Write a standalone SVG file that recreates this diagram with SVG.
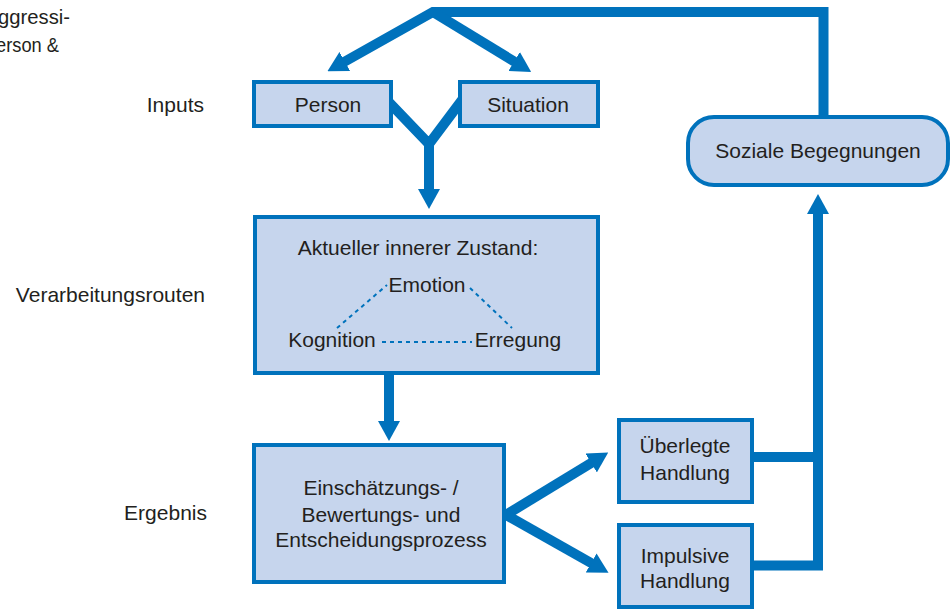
<svg xmlns="http://www.w3.org/2000/svg" width="951" height="609" viewBox="0 0 951 609">
<style>
.box{fill:#c6d5ed;stroke:#0072bc;stroke-width:4}
.t{font-family:"Liberation Sans",Arial,sans-serif;font-size:21px;fill:#231f20}
.m{text-anchor:middle}
.e{text-anchor:end}
.c{fill:none;stroke:#0072bc;stroke-width:10;stroke-linejoin:miter;stroke-miterlimit:10}
.d{fill:none;stroke:#0072bc;stroke-width:2;stroke-dasharray:4 4}
</style>
<defs>
<marker id="ah" viewBox="0 0 20 22" refX="1" refY="11" markerWidth="20" markerHeight="22" markerUnits="userSpaceOnUse" orient="auto">
<path d="M0,0 L20,11 L0,22 Z" fill="#0072bc"/>
</marker>
</defs>
<rect width="951" height="609" fill="#ffffff"/>
<g id="labels">
<text class="t" x="-2" y="24" textLength="72" lengthAdjust="spacingAndGlyphs">ggressi-</text>
<text class="t" x="-4" y="52" textLength="63" lengthAdjust="spacingAndGlyphs">erson &amp;</text>
<text class="t e" x="204" y="112">Inputs</text>
<text class="t e" x="205" y="302">Verarbeitungsrouten</text>
<text class="t e" x="207" y="520">Ergebnis</text>
</g>
<g id="connectors">
<path class="c" d="M823.5,117 V12 H433 L344,62" marker-end="url(#ah)"/>
<path class="c" d="M433,12 L515,62" marker-end="url(#ah)"/>
<path class="c" d="M383,96 L429,144 L468,92"/>
<path class="c" d="M429,140 V190" marker-end="url(#ah)"/>
<path class="c" d="M389,373 V422" marker-end="url(#ah)"/>
<path class="c" d="M500,518.5 L592,462.5" marker-end="url(#ah)"/>
<path class="c" d="M500,511.5 L592,563.5" marker-end="url(#ah)"/>
<path class="c" d="M750,565.5 H818 V213" marker-end="url(#ah)"/>
<path class="c" d="M750,457 H818"/>
</g>
<g id="person">
<rect class="box" x="254" y="82" width="137" height="44"/>
<text class="t m" x="328" y="112">Person</text>
</g>
<g id="situation">
<rect class="box" x="460" y="82" width="138" height="44"/>
<text class="t m" x="528" y="112">Situation</text>
</g>
<g id="zustand">
<rect class="box" x="255" y="217" width="343" height="156"/>
<text class="t m" x="418" y="255">Aktueller innerer Zustand:</text>
<path class="d" d="M337,328 L387,285"/>
<path class="d" d="M470,288 L512,328"/>
<path class="d" d="M382,342 H472"/>
<text class="t m" x="427" y="292">Emotion</text>
<text class="t m" x="332" y="347">Kognition</text>
<text class="t m" x="518" y="347">Erregung</text>
</g>
<g id="einschaetzung">
<rect class="box" x="254" y="445" width="250" height="137"/>
<text class="t m" x="381" y="495">Einschätzungs- /</text>
<text class="t m" x="381" y="522">Bewertungs- und</text>
<text class="t m" x="381" y="547">Entscheidungsprozess</text>
</g>
<g id="ueberlegte">
<rect class="box" x="619" y="420" width="133" height="82"/>
<text class="t m" x="685" y="453">Überlegte</text>
<text class="t m" x="685" y="480">Handlung</text>
</g>
<g id="impulsive">
<rect class="box" x="619" y="525" width="133" height="82"/>
<text class="t m" x="685" y="563">Impulsive</text>
<text class="t m" x="685" y="588">Handlung</text>
</g>
<g id="soziale">
<rect class="box" x="688" y="117" width="260" height="68" rx="26"/>
<text class="t m" x="818" y="158">Soziale Begegnungen</text>
</g>
</svg>
